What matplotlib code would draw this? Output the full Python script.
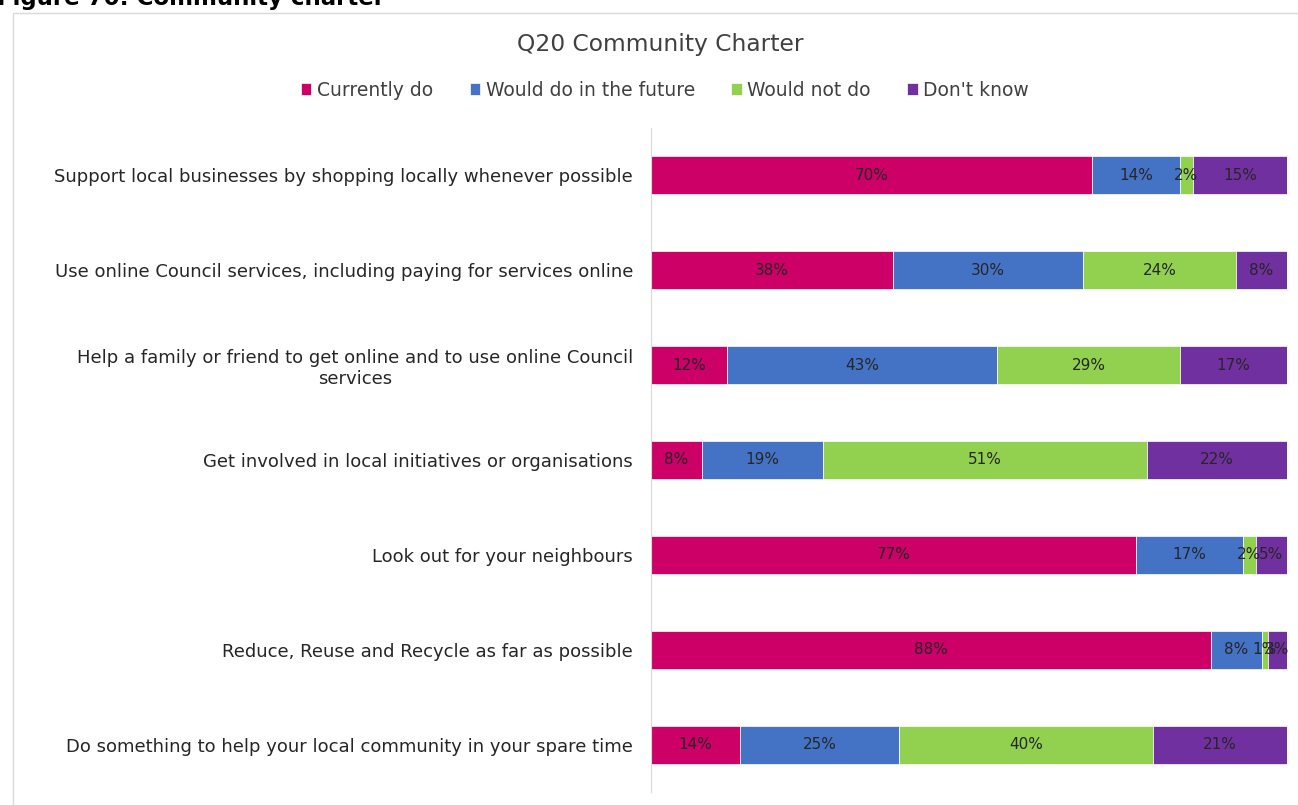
import numpy as np
import matplotlib
matplotlib.use('Agg')
from matplotlib import pyplot as plt
from matplotlib.patches import Rectangle

categories = [
    'Support local businesses by shopping locally whenever possible',
    'Use online Council services, including paying for services online',
    'Help a family or friend to get online and to use online Council\nservices',
    'Get involved in local initiatives or organisations',
    'Look out for your neighbours',
    'Reduce, Reuse and Recycle as far as possible',
    'Do something to help your local community in your spare time',
]
series_names = ['Currently do', 'Would do in the future', 'Would not do', "Don't know"]
currently_do = [70, 38, 12, 8, 77, 88, 14]
would_do_future = [14, 30, 43, 19, 17, 8, 25]
would_not_do = [2, 24, 29, 51, 2, 1, 40]
dont_know = [15, 8, 17, 22, 5, 3, 21]

colors = ['#CC0066', '#4472C4', '#92D050', '#7030A0']

plt.rcParams['font.family'] = ['DejaVu Sans']

W, H = 1298, 805
fig = plt.figure(figsize=(W / 100, H / 100), dpi=100)

# chart border
fig.patches.append(Rectangle((13 / W, -0.01), 1.0, 1 - 13 / H + 0.01,
                             transform=fig.transFigure, fill=False,
                             edgecolor='#D9D9D9', linewidth=1))

# figure caption, cut off at the top
fig.text(-3 / W, 1 - 5 / H, 'Figure 70: Community charter', fontsize=16.5,
         fontweight='bold', ha='left', va='baseline')

ax = fig.add_axes([651 / W, 1 - 792 / H, (1287 - 651) / W, (792 - 128) / H])

data = np.array([currently_do, would_do_future, would_not_do, dont_know], dtype=float)
totals = data.sum(axis=0)
shares = data / totals
y = np.arange(len(categories))
left = np.zeros(len(categories))
for i in range(len(series_names)):
    ax.barh(y, shares[i], left=left, height=0.4, color=colors[i],
            edgecolor='white', linewidth=0.5, label=series_names[i])
    for j in range(len(categories)):
        ax.text(left[j] + shares[i][j] / 2, y[j], '%d%%' % data[i][j],
                ha='center', va='center', fontsize=11, color='#262626')
    left += shares[i]

ax.set_xlim(0, 1)
ax.set_ylim(len(categories) - 0.5, -0.5)
ax.set_yticks(y)
ax.set_yticklabels(categories, fontsize=13, color='#262626', multialignment='center')
ax.tick_params(axis='y', length=0, pad=13)
ax.set_xticks([])
for s in ['top', 'right', 'bottom']:
    ax.spines[s].set_visible(False)
ax.spines['left'].set_color('#D9D9D9')

fig.text(660 / W, 1 - 44 / H, 'Q20 Community Charter', fontsize=16.8,
         ha='center', va='center', color='#404040')

handles, labels = ax.get_legend_handles_labels()
fig.legend(handles, labels, loc='center', bbox_to_anchor=(665 / W, 1 - 90 / H),
           ncol=4, frameon=False, fontsize=13.5, handlelength=0.55, handleheight=0.55,
           handletextpad=0.3, columnspacing=1.95, labelcolor='#404040')

plt.savefig('out.png', dpi=100)
